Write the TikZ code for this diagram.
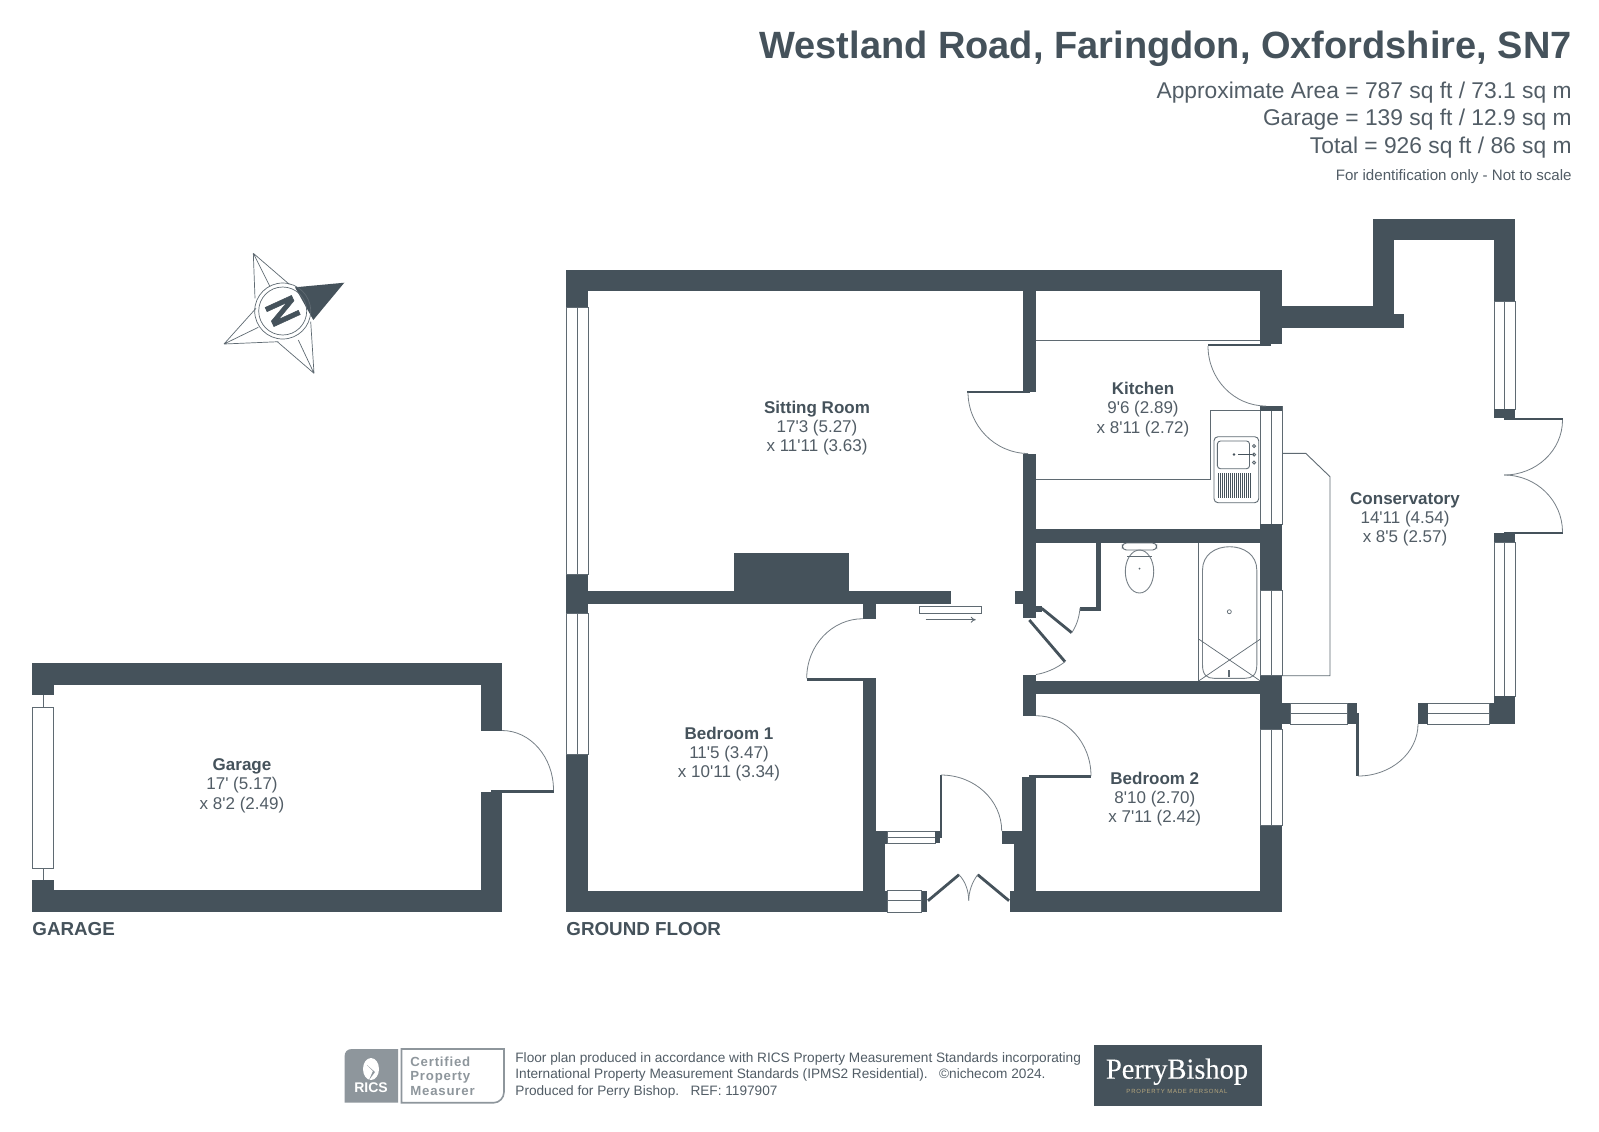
\documentclass[tikz,border=0pt]{standalone}
\usepackage{fontspec}
\usetikzlibrary{calc,arrows.meta}
\setmainfont[Ligatures=TeXOff]{Liberation Sans}
\newfontfamily\logoserif{Liberation Serif}
\definecolor{wallc}{HTML}{45525B}
\definecolor{textc}{HTML}{525D66}
\definecolor{linec}{HTML}{5F6A72}
\definecolor{ricsg}{HTML}{8E969C}
\definecolor{goldc}{HTML}{B7A77E}
\newcommand{\wl}[4]{\fill[wallc] (#1,#2) rectangle (#3,#4);}
\newcommand{\winv}[4]{\draw[thinl,fill=white] (#1,#2) rectangle (#3,#4); \draw[thinl] ({(#1+#3)/2},#2) -- ({(#1+#3)/2},#4);}
\newcommand{\winh}[5]{\draw[thinl,fill=white] (#1,#2) rectangle (#3,#4); \draw[thinl] (#1,#5) -- (#3,#5);}
\newcommand{\qa}[6]{\draw[arcl] (#1,#2) .. controls ($(#1,#2)!.5523!(#3,#4)$) and ($(#5,#6)!.5523!(#3,#4)$) .. (#5,#6);}
\newcommand{\roomlabel}[6]{\node[rname] (#1) at (#2,#3+6) {#4};
  \node[rdim] at (#2,#3+25) {#5};
  \node[rdim] at (#2,#3+44.5) {#6};}
\begin{document}
\begin{tikzpicture}[x=.5pt,y=-.5pt,
  thinl/.style={draw=linec,line width=.45pt},
  arcl/.style={draw=linec!85,line width=.4pt},
  leafl/.style={draw=wallc,line width=1.4pt},
  rname/.style={inner sep=0,anchor=base,text=wallc,font=\fontsize{8.5}{10}\selectfont\bfseries},
  rdim/.style={inner sep=0,anchor=base,text=textc,font=\fontsize{8.5}{10}\selectfont},
  hd/.style={inner sep=0,anchor=base east},
  flr/.style={inner sep=0,anchor=west,text=wallc,font=\fontsize{9.4}{11}\selectfont\bfseries},
  foot/.style={inner sep=0,anchor=base west,text=textc,font=\fontsize{6.82}{8}\selectfont},
  cert/.style={inner sep=0,anchor=west,text=ricsg,font=\addfontfeatures{LetterSpace=6}\fontsize{6.6}{8}\selectfont\bfseries}]
\useasboundingbox (0,0) rectangle (1599,1131);
\fill[white] (0,0) rectangle (1599,1131);
% heading
\node[hd,text=wallc,font=\fontsize{19}{24}\selectfont\bfseries] (title) at (1572,58) {Westland Road, Faringdon, Oxfordshire, SN7};
\node[hd,text=textc,font=\fontsize{11.4}{14}\selectfont] (a1) at (1572,98) {Approximate Area = 787 sq ft / 73.1 sq m};
\node[hd,text=textc,font=\fontsize{11.4}{14}\selectfont] (a2) at (1572,125.5) {Garage = 139 sq ft / 12.9 sq m};
\node[hd,text=textc,font=\fontsize{11.4}{14}\selectfont] (a3) at (1572,153) {Total = 926 sq ft / 86 sq m};
\node[hd,text=textc,font=\fontsize{7.55}{9}\selectfont] (a4) at (1572,180) {For identification only - Not to scale};
% compass
\draw[thinl,line width=.35pt] (253.3,253.3) -- (289.3,284.3) (253.3,253.3) -- (255,298.3) (253.3,253.3) -- (270,286.7)
  (314,373.3) -- (277.3,341.7) (314,373.3) -- (310.7,321.7) (314,373.3) -- (298.3,340)
  (224,344) -- (256,308.3) (224,344) -- (278.3,341.7) (224,344) -- (258.3,327.3);
\fill[wallc] (344.3,282.7) -- (295,287.3) -- (313.3,320) -- cycle;
\draw[thinl,line width=.35pt] (282.7,311) circle [radius=28];
\draw[thinl,line width=.35pt] (282.7,311) circle [radius=24];
\node[inner sep=0,text=wallc,rotate=-65.4,xscale=.85,font=\addfontfeatures{FakeBold=1.5}\fontsize{21}{24}\selectfont\bfseries] (north) at (282.7,311) {N};
% garage
\wl{32}{663}{502}{685}\wl{481}{663}{502}{730.5}\wl{481}{791.7}{502}{912}\wl{32}{890}{502}{912}
\wl{32}{663}{53.6}{695}\wl{32}{880}{53.6}{912}\wl{491}{790}{554}{792.7}
\draw[thinl,fill=white] (32,707.3) rectangle (53.6,868);
\draw[thinl] (43.2,695) -- (43.2,707.3) (43.2,868) -- (43.2,880);
\qa{502}{730.5}{553.5}{730.5}{553.5}{790}
% main walls
\wl{566}{270}{1282}{291}\wl{566}{270}{588}{307}\wl{566}{574}{588}{613}\wl{566}{754.7}{588}{912}
\wl{566}{891}{887}{912}\winv{566}{307}{588}{574}\winv{566}{613}{588}{754.7}
\wl{588}{590.7}{951}{604}\wl{734}{553.3}{849}{604}\wl{863}{604}{876.3}{618.7}
\wl{806.7}{678.3}{876.3}{680.7}\wl{863}{680}{876.3}{912}
\wl{876.3}{831}{887}{843.7}\wl{876.3}{843}{884.7}{891}
\winh{887}{831}{935.3}{843.3}{837}\wl{935.3}{831}{940}{843.3}\wl{940}{775}{942}{837.7}
\wl{1001.7}{831}{1022.3}{843.7}\wl{1014.3}{831}{1036}{912}\wl{1022.3}{777}{1036}{912}\wl{1009.7}{890.7}{1282}{912}
\winh{887}{890.7}{921.7}{912}{900.7}\wl{921.7}{890.7}{927.3}{912}
\wl{1029}{775}{1091}{777.7}
\wl{1260}{270}{1282}{344}\wl{1208}{344}{1270.5}{346}
\winv{1260}{406.7}{1282}{524}\wl{1260}{406}{1282}{410.7}\wl{1260}{524}{1282}{590.3}
\winv{1260}{590.3}{1282}{675.7}\wl{1260}{675.7}{1282}{729}
\winv{1260}{729}{1282}{825.7}\wl{1260}{825.7}{1282}{912}
\wl{1035.5}{529}{1260}{543}\wl{1022.5}{291}{1035.5}{392}\wl{967}{391}{1030}{393}\wl{1022.5}{453.5}{1035.5}{617.7}
\wl{1014.5}{590.7}{1022.5}{604}\wl{1036}{606}{1041.7}{611.7}
\wl{1095.5}{543}{1100.5}{611}\wl{1080}{606.7}{1100.5}{611}
\wl{1022.5}{675}{1036}{716}\wl{1036}{681}{1260}{694.3}
% conservatory walls
\wl{1282}{306.3}{1394}{327.7}\wl{1394}{314.3}{1404}{327.7}\wl{1373}{219}{1394}{327.7}\wl{1373}{219}{1515}{240.3}
\wl{1494}{219}{1515}{301.7}\winv{1494}{301.7}{1515}{409.3}\wl{1494}{409.3}{1515}{418.3}\wl{1504}{417.7}{1562.5}{420}
\wl{1504}{532}{1562.5}{534}\wl{1494}{533}{1515}{542}\winv{1494}{542}{1515}{696.3}
\wl{1494}{696}{1515}{724}\wl{1489}{703}{1515}{724}\winh{1427.6}{703}{1489}{724}{713}\wl{1418}{703}{1427.6}{724}
\winh{1290}{703}{1347.7}{724}{713}\wl{1282}{703}{1290}{724}\wl{1347.7}{703}{1356.5}{724}\wl{1356.5}{713}{1358.5}{724}\wl{1356}{713}{1358.5}{776}
% door leaves
\draw[leafl] (1041.7,608.3) -- (1071.7,632.7);
\draw[leafl] (1029.3,620) -- (1065,661.7);
\draw[leafl] (928,900.7) -- (959,874.7);
\draw[leafl] (1009,900.7) -- (977.7,874.7);
% door swings
\qa{968}{392}{968}{453}{1028}{453.5}
\qa{1208}{346}{1208}{406}{1266}{406}
\qa{1562.5}{420}{1562.5}{475}{1504}{475}
\qa{1504}{475}{1562.5}{475}{1562.5}{532}
\qa{1358}{776}{1418}{776}{1418}{724}
\qa{863}{618.7}{806.7}{618.7}{806.7}{678.3}
\qa{941}{775}{1001.7}{775}{1001.7}{831}
\qa{1036}{715.7}{1091}{715.7}{1091}{776}
\draw[arcl] (1080,608) .. controls (1079,620) and (1075,628) .. (1071.7,632.7);
\draw[arcl] (1065,661.7) .. controls (1057,668) and (1046,673) .. (1036,674.5);
\draw[arcl] (959,874.7) .. controls (966,882) and (968.7,892) .. (968.7,900.7);
\draw[arcl] (977.7,874.7) .. controls (972,882) and (968.7,892) .. (968.7,900.7);
% sliding door
\draw[thinl,fill=white] (919.3,606.3) rectangle (981.7,613.3);
\draw[thinl,-{To[length=2.5pt,width=3pt]}] (925.7,619.7) -- (975.7,619.7);
% kitchen fittings
\draw[thinl] (1035.5,340.3) -- (1260,340.3);
\draw[thinl] (1260,410.3) -- (1210.5,410.3) -- (1210.5,479.7) -- (1035.5,479.7);
\draw[thinl,fill=white,rounded corners=2pt] (1214,436.7) rectangle (1258.7,502.7);
\draw[thinl,rounded corners=1.5pt] (1217.4,441) rectangle (1249.5,468.7);
\foreach \lx in {1218.6,1220.6,...,1251}{\draw[wallc,line width=.45pt] (\lx,473.3) -- (\lx,498.3);}
\draw[wallc,line width=.9pt] (1238,454.5) -- (1254,454.5);
\fill[wallc] (1234,454.5) circle [radius=1.3];
\draw[thinl] (1254,454.5) circle [radius=1.6] (1254,446) circle [radius=1.6] (1254,462.5) circle [radius=1.6];
% conservatory counter
\draw[thinl] (1282,453.3) -- (1305.7,453.3) -- (1330,476.7) -- (1330,675.7) -- (1282,675.7);
% bathroom fittings
\draw[thinl] (1198.7,543) -- (1198.7,680.7);
\draw[arcl,line width=.45pt] (1202.5,570) .. controls (1202.5,555) and (1215,546.7) .. (1229.6,546.7) .. controls (1244,546.7) and (1256.8,555) .. (1256.8,570) -- (1256.8,665) .. controls (1256.8,675) and (1252,678.3) .. (1245,678.3) -- (1214,678.3) .. controls (1207,678.3) and (1202.5,675) .. (1202.5,665) -- cycle;
\draw[thinl,line width=.35pt] (1199,639.3) -- (1260,680.7) (1260,639.3) -- (1199,680.7);
\draw[thinl,line width=.35pt] (1229.3,611.7) circle [radius=2];
\fill[linec] (1228.3,670) rectangle (1230.3,677);
\draw[thinl,rounded corners=2pt,fill=white] (1122.3,543) rectangle (1156.7,550);
\draw[arcl,line width=.45pt] (1139.5,571.5) ellipse [x radius=14.2,y radius=21.5];
\draw[thinl] (1127,556) -- (1152,556);
\fill[linec] (1139.5,568.7) circle [radius=1];
% room labels
\roomlabel{sitting}{817}{407}{Sitting Room}{17'3 (5.27)}{x 11'11 (3.63)}
\roomlabel{kitchen}{1143}{388.5}{Kitchen}{9'6 (2.89)}{x 8'11 (2.72)}
\roomlabel{cons}{1405}{498}{Conservatory}{14'11 (4.54)}{x 8'5 (2.57)}
\roomlabel{bed1}{729}{733}{Bedroom 1}{11'5 (3.47)}{x 10'11 (3.34)}
\roomlabel{bed2}{1154.8}{778}{Bedroom 2}{8'10 (2.70)}{x 7'11 (2.42)}
\roomlabel{gar}{242}{764.5}{Garage}{17' (5.17)}{x 8'2 (2.49)}
\node[flr] (lg) at (32,929) {GARAGE};
\node[flr] (lf) at (566,929) {GROUND FLOOR};
% footer
\fill[ricsg] (398,1049) -- (352,1049) .. controls (347,1049) and (344.5,1052) .. (344.5,1057) -- (344.5,1102.7) -- (398,1102.7) -- cycle;
\fill[white] (371,1069) ellipse [x radius=8,y radius=11];
\fill[ricsg] (367,1065) -- (375,1072) -- (369,1080) -- (373,1071) -- cycle;
\node[inner sep=0,text=white,font=\fontsize{7}{8}\selectfont\bfseries] (rics) at (371,1088) {RICS};
\draw[ricsg,line width=.8pt] (401.5,1049) -- (504,1049) -- (504,1092) .. controls (504,1098) and (499,1102.7) .. (494,1102.7) -- (401.5,1102.7) -- cycle;
\node[cert] (c1) at (410,1062) {Certified};
\node[cert] (c2) at (410,1077) {Property};
\node[cert] (c3) at (410,1091) {Measurer};
\node[foot] (f1) at (515,1062.5) {Floor plan produced in accordance with RICS Property Measurement Standards incorporating};
\node[foot] (f2) at (515,1078.5) {International Property Measurement Standards (IPMS2 Residential).\ \ \ ©nichecom 2024.};
\node[foot] (f3) at (515,1095) {Produced for Perry Bishop.\ \ \ REF: 1197907};
\fill[wallc] (1094,1045) rectangle (1261.5,1106);
\node[inner sep=0,text=white,xscale=.98,font=\logoserif\addfontfeatures{FakeBold=.3}\fontsize{14.5}{16}\selectfont] (logo) at (1177,1071.7) {PerryBishop};
\node[inner sep=0,text=goldc,font=\addfontfeatures{LetterSpace=13}\fontsize{3}{4}\selectfont] (tag) at (1177,1091.7) {PROPERTY MADE PERSONAL};
\end{tikzpicture}
\end{document}
